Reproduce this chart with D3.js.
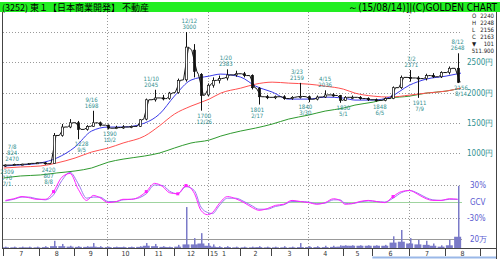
<!DOCTYPE html>
<html>
<head>
<meta charset="utf-8">
<script src="https://cdn.jsdelivr.net/npm/d3@7"></script>
<style>
  body { margin: 0; background: #fff; }
  svg { display: block; }
</style>
</head>
<body>
<div id="chart"></div>
<script>
// ---- data ----
const holidays = ["2014-07-21","2014-09-15","2014-09-23","2014-10-13","2014-11-03","2014-11-24",
  "2014-12-23","2014-12-31","2015-01-01","2015-01-02","2015-01-12","2015-02-11","2015-04-29",
  "2015-05-04","2015-05-05","2015-05-06","2015-07-20"];

// weekly candles, placed on the Wednesday of each week
const weekDates = ["2014-07-02","2014-07-09","2014-07-16","2014-07-23","2014-07-30","2014-08-06","2014-08-13",
  "2014-08-20","2014-08-27","2014-09-03","2014-09-10","2014-09-17","2014-09-24","2014-10-01","2014-10-08",
  "2014-10-15","2014-10-22","2014-10-29","2014-11-05","2014-11-12","2014-11-19","2014-11-26","2014-12-03",
  "2014-12-10","2014-12-17","2014-12-24","2014-12-30","2015-01-07","2015-01-14","2015-01-21","2015-01-28",
  "2015-02-04","2015-02-12","2015-02-18","2015-02-25","2015-03-04","2015-03-11","2015-03-18","2015-03-25",
  "2015-04-01","2015-04-08","2015-04-15","2015-04-22","2015-04-28","2015-05-07","2015-05-13","2015-05-20",
  "2015-05-27","2015-06-03","2015-06-10","2015-06-17","2015-06-24","2015-07-01","2015-07-08","2015-07-15",
  "2015-07-22","2015-07-29","2015-08-05","2015-08-12"];
const open  = [795,800,808,815,828,838,825,1290,1430,1500,1390,1440,1500,1460,1410,1420,1430,1440,1560,1880,
  1910,1900,2000,2210,2700,2300,1960,2120,2200,2240,2290,2310,2280,2070,1930,1920,1930,1900,1930,1930,
  1890,1925,1960,1950,1870,1920,1920,1900,1880,1870,1900,2080,2250,2240,2230,2280,2260,2330,2400];
const high  = [810,824,822,835,845,850,1330,1480,1560,1530,1460,1698,1520,1470,1450,1460,1455,1560,1900,2045,
  1960,2010,2230,3000,2800,2320,2150,2250,2280,2383,2360,2340,2300,2090,1960,1950,1955,1940,2159,1950,
  1950,2036,1990,1960,1940,1950,1940,1920,1900,1920,2100,2280,2371,2270,2310,2320,2350,2430,2648];
const low   = [770,792,798,808,820,807,818,1270,1410,1228,1370,1430,1440,1390,1395,1400,1410,1430,1540,1850,
  1870,1880,1980,2180,2250,1700,1940,2080,2150,2200,2260,2250,2050,1801,1890,1890,1880,1880,1900,1840,
  1870,1910,1930,1830,1860,1890,1880,1860,1848,1855,1890,2060,2180,1911,2200,2240,2240,2300,2156];
const close = [800,808,815,828,838,822,1290,1430,1500,1390,1440,1500,1460,1410,1420,1430,1440,1550,1880,1910,
  1900,1990,2200,2750,2350,1950,2120,2200,2230,2290,2310,2280,2080,1930,1920,1930,1900,1920,1935,1890,
  1925,1960,1950,1870,1920,1920,1900,1880,1870,1900,2080,2250,2240,2230,2280,2260,2330,2400,2169];
// volume in 万株: typical day of each week, and the busiest day of the week
const volumeBase = [1.5,1.5,1.5,1.5,1.5,2,4,4,3,2.5,2.5,3,2,2,2,2,2,2.5,5,4,
  2.5,2,3,8,8,10,5,3,2,2,1.5,1.5,1.5,2,1.5,1.5,1.5,1.5,2,2,
  2,2,2.5,3,5,5,5,5,5,5,12,14,10,8,7,5,3,6,25];
const volumePeak = [3,3,3,3,3,4,16,9,5,4,4,11,4,3,3,3,3,4,11,9,4,3,7,91,22,33,11,8,4,4,
  3,3,3,4,3,3,4,3,11,4,4,5,5,6,6,6,6,6,6,7,26,40,22,18,16,10,6,18,138];
// GCV (%) and its signal line, one value per week
const gcv = [2,5,9,7,4,4,18,44,51,22,2,11,7,-2,0,4,4,9,18,33,27,16,14,29,15,-16,-24,-20,-4,9,
  5,-2,-11,-16,-13,-7,-5,2,0,-2,-5,-2,5,2,-5,-4,0,2,0,-2,9,18,20,13,5,2,2,5,4];
const gcvSignal = [1,4,8,8,5,3,12,38,53,32,6,8,8,0,0,3,4,7,14,30,29,19,14,27,20,-10,-20,-22,-8,6,
  6,0,-8,-14,-14,-9,-6,0,0,-1,-4,-3,3,3,-3,-4,-1,1,0,-1,6,16,20,15,7,3,2,4,4];
const gcvDots = ["2014-08-13","2014-11-05","2014-12-03","2014-12-10","2015-06-17"];

// moving averages, semi-monthly readings
const maDates = ["2014-07-01","2014-07-15","2014-08-01","2014-08-15","2014-09-01","2014-09-16","2014-10-01",
  "2014-10-15","2014-11-04","2014-11-17","2014-12-01","2014-12-15","2015-01-05","2015-01-15","2015-02-02",
  "2015-02-16","2015-03-02","2015-03-16","2015-04-01","2015-04-15","2015-05-01","2015-05-15","2015-06-01",
  "2015-06-15","2015-07-01","2015-07-15","2015-08-03","2015-08-14"];
const maShort = [785,802,835,917,1099,1363,1429,1429,1495,1644,1941,2205,2271,2304,2254,2106,2007,1891,
  1891,1924,1908,1875,1875,1924,2122,2221,2271,2320];
const maMid = [752,769,785,835,917,1016,1082,1165,1280,1450,1643,1775,1891,1990,2072,2138,2171,2155,
  2138,2105,2056,1990,1940,1924,1957,1990,2023,2072];
const maLong = [587,620,637,670,703,752,848,899,950,1000,1082,1165,1214,1280,1363,1412,1478,1561,
  1627,1693,1742,1792,1841,1907,1940,1990,2023,2072];

// high / low call-outs
const highNotes = [
  { date: "2014-07-08", value: 824, lines: ["7/8", "824", "2470"] },
  { date: "2014-09-16", value: 1698, lines: ["9/16", "1698"] },
  { date: "2014-11-10", value: 2045, lines: ["11/10", "2045"] },
  { date: "2014-12-12", value: 3000, lines: ["12/12", "3000"] },
  { date: "2015-01-20", value: 2383, lines: ["1/20", "2383"] },
  { date: "2015-03-23", value: 2159, lines: ["3/23", "2159"] },
  { date: "2015-04-15", value: 2036, lines: ["4/15", "2036"] },
  { date: "2015-07-02", value: 2371, lines: ["7/2", "2371"] },
  { date: "2015-08-12", value: 2648, lines: ["8/12", "2648"] }
];
const lowNotes = [
  { date: "2014-07-01", value: 770, lines: ["2309", "770", "7/1"] },
  { date: "2014-08-08", value: 807, lines: ["2420", "807", "8/8"] },
  { date: "2014-09-05", value: 1228, lines: ["1228", "9/5"] },
  { date: "2014-10-02", value: 1390, lines: ["1390", "10/2"] },
  { date: "2014-12-26", value: 1700, lines: ["1700", "12/26"] },
  { date: "2015-02-17", value: 1801, lines: ["1801", "2/17"] },
  { date: "2015-03-30", value: 1840, lines: ["1840", "3/30"] },
  { date: "2015-05-01", value: 1830, lines: ["1830", "5/1"] },
  { date: "2015-06-05", value: 1848, lines: ["1848", "6/5"] },
  { date: "2015-07-09", value: 1911, lines: ["1911", "7/9"] },
  { date: "2015-08-14", value: 2156, lines: ["2156", "8/14"] }
];

const priceTicks = [1000, 1500, 2000, 2500, 3000];
const monthLabels = ["7","8","9","10","11","12","1","2","3","4","5","6","7","8"];
const quoteLabels = ["O","H","L","C","▼",""];
const quoteValues = ["2240","2248","2156","2163","101","511.900"];

// ---- layout ----
const W = 500, H = 259;
const left = 3, right = 480, plotRight = 462;
const svg = d3.select("#chart").append("svg").attr("width", W).attr("height", H);
const narrow = "'Liberation Sans Narrow', 'DejaVu Sans Condensed', 'Arial Narrow', sans-serif";
const teal = "#2f8f8f";

// trading-day axis
const fmt = d3.timeFormat("%Y-%m-%d");
const hol = new Set(holidays);
const days = d3.timeDay.range(new Date(2014, 6, 1), new Date(2015, 8, 1))
  .filter(d => d.getDay() > 0 && d.getDay() < 6 && !hol.has(fmt(d)));
const dayIndex = new Map(days.map((d, i) => [fmt(d), i]));
const xIdx = d3.scaleLinear().domain([0, days.length]).range([left, right]);
const x = s => xIdx(dayIndex.get(s) + 0.5);

const y = d3.scaleLinear().domain([1000, 3000]).range([153, 32]);
const yG = d3.scaleLinear().domain([-30, 30]).range([218, 185]);
const yV = d3.scaleLinear().domain([0, 20]).range([248, 239]);

svg.append("defs").append("clipPath").attr("id", "plot")
  .append("rect").attr("x", left).attr("y", 12).attr("width", plotRight - left + 2).attr("height", 236);

// header bar
svg.append("rect").attr("x", 0).attr("y", 2).attr("width", W).attr("height", 10).attr("fill", "#22ee22");
svg.append("text").attr("x", 2).attr("y", 10.5)
  .style("font-family", "'Noto Sans CJK JP', sans-serif").style("font-size", "9px")
  .text("(3252) 東１【日本商業開発】 不動産");
svg.append("text").attr("x", 497).attr("y", 10.5).attr("text-anchor", "end")
  .style("font-family", narrow).style("font-size", "10px")
  .text("～(15/08/14)]|(C)GOLDEN CHART");

// frame
svg.append("line").attr("x1", left - 0.5).attr("x2", left - 0.5).attr("y1", 12).attr("y2", 248)
  .attr("stroke", "#444");
svg.append("line").attr("x1", 496.5).attr("x2", 496.5).attr("y1", 12).attr("y2", 259)
  .attr("stroke", "#444");

// dotted grid
const grid = svg.append("g").attr("stroke", "#9a9a9a").attr("stroke-dasharray", "1,2")
  .attr("shape-rendering", "crispEdges");
grid.selectAll("line.h")
  .data(priceTicks.map(y).concat([yG(30), yG(-30)]))
  .join("line").attr("x1", left).attr("x2", plotRight)
  .attr("y1", d => Math.round(d) + 0.5).attr("y2", d => Math.round(d) + 0.5);
const quarterStarts = days.filter((d, i) => i > 0 && d.getMonth() !== days[i - 1].getMonth()
  && [0, 3, 6, 9].includes(d.getMonth()));
grid.selectAll("line.v").data(quarterStarts).join("line")
  .attr("x1", d => Math.round(xIdx(dayIndex.get(fmt(d)))) + 0.5)
  .attr("x2", d => Math.round(xIdx(dayIndex.get(fmt(d)))) + 0.5)
  .attr("y1", 12).attr("y2", 248);

// solid reference lines
svg.append("line").attr("x1", left).attr("x2", plotRight).attr("y1", Math.round(yG(0)) + 0.5)
  .attr("y2", Math.round(yG(0)) + 0.5).attr("stroke", "#9fd49f");
svg.append("line").attr("x1", left).attr("x2", plotRight).attr("y1", Math.round(yV(20)) + 0.5)
  .attr("y2", Math.round(yV(20)) + 0.5).attr("stroke", "#999");

// right-side scale labels
svg.append("g").selectAll("text").data(priceTicks.slice(0, 4)).join("text")
  .attr("x", 467).attr("y", d => y(d) + 3)
  .style("font-family", narrow).style("font-size", "8px").attr("fill", teal)
  .text(d => d + "円");
svg.append("g").selectAll("text")
  .data([["30%", yG(30)], ["GCV", yG(0)], ["-30%", yG(-30)], ["20万", yV(20)]])
  .join("text").attr("x", d => d[0] === "-30%" ? 467 : 470).attr("y", d => d[1] + 3)
  .style("font-family", narrow).style("font-size", "8px").attr("fill", "#5a5ad0")
  .text(d => d[0]);

// quote box
const qb = svg.append("g").style("font-family", narrow).style("font-size", "6px").attr("fill", "#222");
quoteLabels.forEach((l, i) => {
  qb.append("text").attr("x", 472).attr("y", 18 + i * 7).text(l);
  qb.append("text").attr("x", 494).attr("y", 18 + i * 7).attr("text-anchor", "end").text(quoteValues[i]);
});

const plot = svg.append("g").attr("clip-path", "url(#plot)");

// volume: a low carpet per week plus the busiest day
const vol = plot.append("g").attr("fill", "#7a7ac8");
vol.selectAll("rect.base").data(weekDates).join("rect").attr("class", "base")
  .attr("x", d => x(d) - 3.5).attr("width", 7)
  .attr("y", (d, i) => yV(volumeBase[i])).attr("height", (d, i) => 248 - yV(volumeBase[i]));
vol.selectAll("rect.peak").data(weekDates).join("rect").attr("class", "peak")
  .attr("x", d => Math.round(x(d))).attr("width", 1.5)
  .attr("y", (d, i) => yV(volumePeak[i])).attr("height", (d, i) => 248 - yV(volumePeak[i]));

// moving averages
const maLine = vals => d3.line().curve(d3.curveMonotoneX)
  .x((d, i) => x(maDates[i])).y((d, i) => y(vals[i]))(maDates);
[[maLong, "#2f9a2f"], [maMid, "#ff5050"], [maShort, "#3a3ae8"]].forEach(([vals, col]) => {
  plot.append("path").attr("d", maLine(vals)).attr("fill", "none").attr("stroke", col).attr("stroke-width", 1);
});

// GCV lines
const gLine = vals => d3.line().curve(d3.curveMonotoneX)
  .x((d, i) => x(weekDates[i])).y((d, i) => yG(vals[i]))(weekDates);
plot.append("path").attr("d", gLine(gcvSignal)).attr("fill", "none").attr("stroke", "#9a7af0");
plot.append("path").attr("d", gLine(gcv)).attr("fill", "none").attr("stroke", "#ff22ff");
plot.append("g").attr("fill", "#ff22ff").selectAll("rect").data(gcvDots).join("rect")
  .attr("x", d => x(d) - 1.5).attr("y", d => yG(gcv[weekDates.indexOf(d)]) - 1.5)
  .attr("width", 3).attr("height", 3);

// price: thin trace through open/close so the weekly candles read as a continuous daily scribble
const trace = [];
weekDates.forEach((d, i) => {
  trace.push([x(d) - 2.5, y(open[i])]);
  trace.push([x(d) + 2.5, y(close[i])]);
});
plot.append("path").attr("d", d3.line()(trace)).attr("fill", "none").attr("stroke", "#111").attr("stroke-width", 1);

const candles = plot.append("g").selectAll("g").data(weekDates).join("g");
candles.append("line")
  .attr("x1", d => Math.round(x(d)) + 0.5).attr("x2", d => Math.round(x(d)) + 0.5)
  .attr("y1", (d, i) => y(high[i])).attr("y2", (d, i) => y(low[i]))
  .attr("stroke", "#111");
candles.append("rect")
  .attr("x", d => Math.round(x(d)) - 0.5).attr("width", 2)
  .attr("y", (d, i) => y(Math.max(open[i], close[i])))
  .attr("height", (d, i) => Math.max(1, Math.abs(y(open[i]) - y(close[i]))))
  .attr("fill", (d, i) => close[i] >= open[i] ? "#fff" : "#111")
  .attr("stroke", "#111").attr("stroke-width", 0.7);

// call-outs
const notes = svg.append("g").style("font-family", narrow).style("font-size", "6px")
  .attr("fill", teal).attr("text-anchor", "middle");
highNotes.forEach(n => {
  const k = n.lines.length;
  n.lines.forEach((t, j) => notes.append("text").attr("x", x(n.date))
    .attr("y", y(n.value) - 3 - (k - 1 - j) * 6).text(t));
});
lowNotes.forEach(n => {
  const nx = Math.max(x(n.date), 7);
  n.lines.forEach((t, j) => notes.append("text").attr("x", nx)
    .attr("y", y(n.value) + 7 + j * 6).text(t));
});

// bottom month axis
svg.append("line").attr("x1", left - 1).attr("x2", 497).attr("y1", 248.5).attr("y2", 248.5).attr("stroke", "#444");
const monthStarts = days.filter((d, i) => i === 0 || d.getMonth() !== days[i - 1].getMonth())
  .map(d => dayIndex.get(fmt(d))).concat([days.length]);
const axis = svg.append("g").attr("stroke", "#444");
monthStarts.forEach(i => {
  const px = Math.round(xIdx(i)) + 0.5;
  axis.append("line").attr("x1", px).attr("x2", px).attr("y1", 248).attr("y2", 256);
});
svg.append("g").selectAll("text").data(monthLabels).join("text")
  .attr("x", (d, i) => (xIdx(monthStarts[i]) + xIdx(monthStarts[i + 1])) / 2)
  .attr("y", 256).attr("text-anchor", "middle")
  .style("font-family", narrow).style("font-size", "7px").attr("fill", "#333")
  .text(d => d);
svg.append("text").attr("x", xIdx(monthStarts[6]) + 1.5).attr("y", 256)
  .style("font-family", narrow).style("font-size", "7px").attr("fill", "#333").text("15");
svg.append("line").attr("x1", xIdx(monthStarts[11])).attr("x2", 496).attr("y1", 257.5).attr("y2", 257.5)
  .attr("stroke", "#9ab8e8").attr("stroke-width", 2);
</script>
</body>
</html>
